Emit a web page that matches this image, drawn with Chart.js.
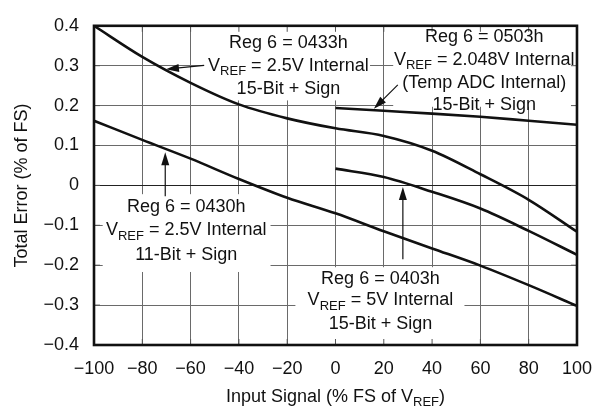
<!DOCTYPE html>
<html>
<head>
<meta charset="utf-8">
<script src="https://cdn.jsdelivr.net/npm/chart.js@4.4.1/dist/chart.umd.min.js"></script>
<style>
  html, body { margin: 0; padding: 0; background: #fff; }
  #wrap { width: 605px; height: 411px; }
</style>
</head>
<body>
<div id="wrap"><canvas id="chart"></canvas></div>
<script>
// Reg 6 = 0433h, VREF = 2.5V internal, 15-bit + sign
const x0433 = [-100, -80, -60, -40, -20, 0, 20, 40, 60, 80, 100];
const y0433 = [0.400, 0.322, 0.257, 0.203, 0.168, 0.143, 0.124, 0.087, 0.028, -0.036, -0.116];

// Reg 6 = 0430h, VREF = 2.5V internal, 11-bit + sign
const x0430 = [-100, -80, -60, -40, -20, 0, 20, 40, 60, 80, 100];
const y0430 = [0.162, 0.114, 0.067, 0.016, -0.031, -0.070, -0.115, -0.158, -0.201, -0.250, -0.302];

// Reg 6 = 0503h, VREF = 2.048V internal (temp ADC)
const x0503 = [0, 20, 40, 60, 80, 100];
const y0503 = [0.194, 0.187, 0.180, 0.172, 0.162, 0.152];

// Reg 6 = 0403h, VREF = 5V internal, 15-bit + sign
const x0403 = [0, 20, 40, 60, 80, 100];
const y0403 = [0.042, 0.021, -0.016, -0.058, -0.114, -0.174];

const xTicks = [-100, -80, -60, -40, -20, 0, 20, 40, 60, 80, 100];
const yTicks = [-0.4, -0.3, -0.2, -0.1, 0, 0.1, 0.2, 0.3, 0.4];

const xTitle = "Input Signal (% FS of V_{REF})";
const yTitle = "Total Error (% of FS)";

// labels: text centre (x), row centres (y), white box, arrow from -> to (data units)
const notes = [
    {
        lines: ["Reg 6 = 0433h", "V_{REF} = 2.5V Internal", "15-Bit + Sign"],
        cx: -19.5, rows: [0.358, 0.300, 0.242],
        box: [-54.4, 14.3, 0.4, 0.213],
        arrow: [-54.4, 0.301, -70.2, 0.291],
    },
    {
        lines: ["Reg 6 = 0503h", "V_{REF} = 2.048V Internal", "(Temp ADC Internal)", "15-Bit + Sign"],
        cx: 61.6, rows: [0.371, 0.315, 0.257, 0.201],
        box: [23.9, 100, 0.4, 0.197],
        arrow: [25.8, 0.252, 15.9, 0.192],
    },
    {
        lines: ["Reg 6 = 0430h", "V_{REF} = 2.5V Internal", "11-Bit + Sign"],
        cx: -61.8, rows: [-0.054, -0.113, -0.174],
        box: [-96.4, -26.9, -0.022, -0.217],
        arrow: [-70.5, -0.027, -70.5, 0.083],
    },
    {
        lines: ["Reg 6 = 0403h", "V_{REF} = 5V Internal", "15-Bit + Sign"],
        cx: 18.6, rows: [-0.234, -0.288, -0.348],
        box: [-16.6, 53.4, -0.205, -0.4],
        arrow: [27.9, -0.185, 27.9, -0.004],
    },
];

const FONT = "Liberation Sans, Arial, Helvetica, sans-serif";
const INK = "#111";

function pts(xs, ys) {
    return xs.map((x, i) => ({ x: x, y: ys[i] }));
}

function series(xs, ys) {
    return {
        data: pts(xs, ys),
        borderColor: INK,
        borderWidth: 2.6,
        pointRadius: 0,
        fill: false,
        tension: 0.4,
        cubicInterpolationMode: "monotone",
    };
}

// draw text with _{sub} parts, centred on cx
function drawRich(ctx, s, cx, cy, size) {
    const parts = s.split(/(_\{[^}]*\})/).filter((p) => p.length);
    const subSize = Math.round(size * 0.72);
    const segs = parts.map((p) => {
        const sub = p.startsWith("_{");
        const t = sub ? p.slice(2, -1) : p;
        ctx.font = `${sub ? subSize : size}px ${FONT}`;
        return { t: t, sub: sub, w: ctx.measureText(t).width };
    });
    let x = cx - segs.reduce((a, s) => a + s.w, 0) / 2;
    ctx.textAlign = "left";
    ctx.textBaseline = "middle";
    segs.forEach((s) => {
        ctx.font = `${s.sub ? subSize : size}px ${FONT}`;
        ctx.fillText(s.t, x, s.sub ? cy + size * 0.32 : cy);
        x += s.w;
    });
}

function drawArrow(ctx, x1, y1, x2, y2) {
    const ang = Math.atan2(y2 - y1, x2 - x1);
    const len = 13, half = 4;
    ctx.beginPath();
    ctx.moveTo(x1, y1);
    ctx.lineTo(x2 - Math.cos(ang) * len * 0.8, y2 - Math.sin(ang) * len * 0.8);
    ctx.lineWidth = 1.2;
    ctx.strokeStyle = INK;
    ctx.stroke();
    ctx.beginPath();
    ctx.moveTo(x2, y2);
    ctx.lineTo(x2 - Math.cos(ang) * len - Math.sin(ang) * half, y2 - Math.sin(ang) * len + Math.cos(ang) * half);
    ctx.lineTo(x2 - Math.cos(ang) * len + Math.sin(ang) * half, y2 - Math.sin(ang) * len - Math.cos(ang) * half);
    ctx.closePath();
    ctx.fillStyle = INK;
    ctx.fill();
}

const notesPlugin = {
    id: "notes",
    beforeDatasetsDraw(chart) {
        const { ctx, chartArea: a, scales: { x, y } } = chart;
        ctx.save();
        // white label boxes hide the grid
        ctx.fillStyle = "#fff";
        notes.forEach((n) => {
            const l = x.getPixelForValue(n.box[0]), r = x.getPixelForValue(n.box[1]);
            const t = y.getPixelForValue(n.box[2]), b = y.getPixelForValue(n.box[3]);
            ctx.fillRect(l, t, r - l, b - t);
        });
        // short inward ticks on the frame
        ctx.strokeStyle = "#555";
        ctx.lineWidth = 1;
        ctx.beginPath();
        xTicks.slice(1, -1).forEach((v) => {
            const px = x.getPixelForValue(v);
            ctx.moveTo(px, a.top); ctx.lineTo(px, a.top + 6);
            ctx.moveTo(px, a.bottom); ctx.lineTo(px, a.bottom - 6);
        });
        yTicks.slice(1, -1).forEach((v) => {
            const py = y.getPixelForValue(v);
            ctx.moveTo(a.left, py); ctx.lineTo(a.left + 6, py);
            ctx.moveTo(a.right, py); ctx.lineTo(a.right - 6, py);
        });
        ctx.stroke();
        ctx.restore();
    },
    afterDatasetsDraw(chart) {
        const { ctx, chartArea: a, scales: { x, y } } = chart;
        ctx.save();
        ctx.fillStyle = INK;
        notes.forEach((n) => {
            const cx = x.getPixelForValue(n.cx);
            n.lines.forEach((s, i) => drawRich(ctx, s, cx, y.getPixelForValue(n.rows[i]), 18));
            drawArrow(ctx,
                x.getPixelForValue(n.arrow[0]), y.getPixelForValue(n.arrow[1]),
                x.getPixelForValue(n.arrow[2]), y.getPixelForValue(n.arrow[3]));
        });

        // frame
        ctx.strokeStyle = INK;
        ctx.lineWidth = 2.6;
        ctx.strokeRect(a.left, a.top, a.right - a.left, a.bottom - a.top);

        // axis titles
        ctx.fillStyle = INK;
        drawRich(ctx, xTitle, (a.left + a.right) / 2, 397, 18);
        ctx.translate(22, (a.top + a.bottom) / 2);
        ctx.rotate(-Math.PI / 2);
        drawRich(ctx, yTitle, 0, 0, 18);
        ctx.restore();
    },
};

const minus = (v) => String(v).replace("-", "\u2212");

new Chart(document.getElementById("chart"), {
    type: "line",
    data: {
        datasets: [
            series(x0433, y0433),
            series(x0430, y0430),
            series(x0503, y0503),
            series(x0403, y0403),
        ],
    },
    options: {
        responsive: true,
        maintainAspectRatio: false,
        animation: false,
        devicePixelRatio: 1,
        layout: { padding: { top: 15, right: 25, left: 0, bottom: 0 } },
        plugins: {
            legend: { display: false },
            tooltip: { enabled: false },
        },
        scales: {
            x: {
                type: "linear",
                min: -100,
                max: 100,
                afterBuildTicks: (s) => { s.ticks = xTicks.map((v) => ({ value: v })); },
                afterFit: (s) => { s.height = 66; },
                grid: { color: "#6a6a6a", lineWidth: 1, drawTicks: false },
                border: { display: false },
                ticks: {
                    padding: 13,
                    color: INK,
                    font: { family: FONT, size: 18 },
                    maxRotation: 0,
                    callback: (v) => minus(v),
                },
            },
            y: {
                type: "linear",
                min: -0.4,
                max: 0.4,
                afterBuildTicks: (s) => { s.ticks = yTicks.map((v) => ({ value: v })); },
                afterFit: (s) => { s.width = 94; },
                grid: {
                    color: (c) => (c.tick && c.tick.value === 0 ? "#222" : "#6a6a6a"),
                    lineWidth: 1,
                    drawTicks: false,
                },
                border: { display: false },
                ticks: {
                    padding: 15,
                    color: INK,
                    font: { family: FONT, size: 18 },
                    callback: (v) => minus(Math.round(v * 10) / 10),
                },
            },
        },
    },
    plugins: [notesPlugin],
});
</script>
</body>
</html>
